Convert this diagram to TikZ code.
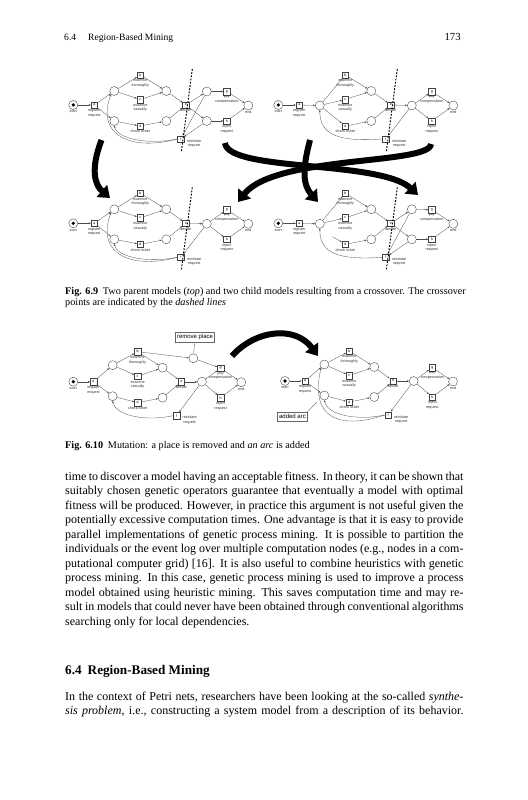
\documentclass[tikz,border=0pt]{standalone}
\usepackage{fontspec}
\setmainfont{Liberation Serif}
\newfontfamily\netfont{Liberation Sans}
\usetikzlibrary{arrows.meta}

\tikzset{
  place/.style={circle, draw=black!75, line width=0.3pt, minimum size=7.5pt, inner sep=0pt},
  startplace/.style={place, path picture={\fill[black] (path picture bounding box.center) circle (1.5pt);}},
  trans/.style={rectangle, draw=black!75, line width=0.3pt, minimum size=5.5pt, inner sep=0pt,
    font=\netfont\fontsize{3}{3}\selectfont},
  netlab/.style={font=\netfont\fontsize{3.1}{3.7}\selectfont, align=center, inner sep=0.4pt, text=black!80},
  arc/.style={draw=black!70, line width=0.25pt, -{Stealth[length=1.8pt,width=1.5pt]}},
  cutline/.style={line width=0.8pt, dash pattern=on 1.5pt off 1.2pt},
  bigarrow/.style={line width=5pt, -{Triangle[length=9pt,width=13pt]}},
  notebox/.style={draw=black!60, line width=0.4pt, inner sep=1.2pt, minimum height=8pt,
    font=\netfont\fontsize{5}{5}\selectfont},
  pointer/.style={draw=black!60, line width=0.3pt},
  bodyline/.style={anchor=base west, inner sep=0pt, font=\fontsize{10}{12}\selectfont},
  capline/.style={anchor=base west, inner sep=0pt, font=\fontsize{8.5}{10}\selectfont},
}

% nodes every model shares; #1 = prefix of the names
\newcommand\netcore[1]{%
  \node[startplace, label={[netlab]below:start}] (#1s) at (0,0) {};
  \node[trans, label={[netlab]below:{register\\request}}] (#1a) at (21,0) {a};
  \node[trans, label={[netlab]below:{examine\\thoroughly}}] (#1b) at (67,-30) {b};
  \node[trans, label={[netlab]below:{examine\\casually}}] (#1c) at (67,-5.5) {c};
  \node[trans, label={[netlab]below:{check ticket}}] (#1d) at (67,21) {d};
  \node[place] (#1q3) at (93,-14) {};
  \node[place] (#1q4) at (93,16) {};
  \node[trans, label={[netlab]below:decide}] (#1e) at (112.5,0) {e};
  \node[trans, label={[netlab]below:{pay\\compensation}}] (#1g) at (153.5,-13.5) {g};
  \node[trans, label={[netlab]below:{reject\\request}}] (#1h) at (153.5,16) {h};
  \node[place, label={[netlab]below:end}] (#1end) at (175,0.5) {};
  \node[trans] (#1f) at (107.5,34) {f};
  \node[netlab] (#1flab) at ([shift={(10,4.5)}]#1f.east) {reinitiate\\request};
  \foreach \u/\v in {s/a, b/q3, c/q3, d/q4, q3/e, q4/e, g/end, h/end}
    \draw[arc] (#1\u) -- (#1\v);
}
% crossover point
\newcommand\cutat[1]{%
  \coordinate (#1k1) at (119,-36);
  \coordinate (#1k2) at (108,47);
  \draw[cutline] (#1k1) -- (#1k2);
}

\begin{document}
\begin{tikzpicture}[x=0.8337pt, y=-0.8337pt]
  \fill[white] (0,0) rectangle (527,800);
  \useasboundingbox (0,0) rectangle (527,800);

  % running head
  \node[capline, font=\fontsize{8}{10}\selectfont] (runhead) at (64,40.5) {6.4\hspace{10pt}Region-Based Mining};
  \node[capline, anchor=base east, font=\fontsize{9}{10}\selectfont] (folio) at (461,40.5) {173};

  % parent 1
  \begin{scope}[shift={(73.3,105)}]
    \netcore{tl}
    \node[place] (tlp1) at (41,-14) {};
    \node[place] (tlp2) at (41,16) {};
    \node[place] (tlp5) at (133.5,-13.5) {};
    \node[place] (tlp6) at (133.5,16) {};
    \foreach \u/\v in {a/p1, a/p2, p1/b, p1/c, p2/d, e/p5, e/p6, p5/g, p6/h, p5/f, p6/f}
      \draw[arc] (tl\u) -- (tl\v);
    \draw[arc] (tlf.west) .. controls (60,46) and (22,32) .. (tlp1.south west);
    \draw[arc] (tlf.west) .. controls (75,40) and (44,34) .. (tlp2.south);
    \cutat{tl}
  \end{scope}

  % parent 2
  \begin{scope}[shift={(278.3,105)}]
    \netcore{tr}
    \node[place] (trp1) at (41.5,0.5) {};
    \node[place] (trp5) at (133.5,0.5) {};
    \foreach \u/\v in {a/p1, p1/b, p1/c, p1/d, e/p5, p5/g, p5/h, p5/f}
      \draw[arc] (tr\u) -- (tr\v);
    \draw[arc] (trf.west) .. controls (60,37) and (41.5,30) .. (trp1.south);
    \cutat{tr}
  \end{scope}

  % child 1
  \begin{scope}[shift={(73.3,223.3)}]
    \netcore{bl}
    \node[place] (blp1) at (41,-14) {};
    \node[place] (blp2) at (41,16) {};
    \node[place] (blp5) at (133.5,0.5) {};
    \foreach \u/\v in {a/p1, a/p2, p1/b, p1/c, p2/d, e/p5, p5/g, p5/h, p5/f}
      \draw[arc] (bl\u) -- (bl\v);
    \draw[arc] (blf.west) .. controls (60,46) and (22,32) .. (blp1.south west);
    \draw[arc] (blf.west) .. controls (75,40) and (44,34) .. (blp2.south);
    \cutat{bl}
  \end{scope}

  % child 2
  \begin{scope}[shift={(278.3,223.3)}]
    \netcore{br}
    \node[place] (brp1) at (41.5,0.5) {};
    \node[place] (brp5) at (133.5,-14) {};
    \node[place] (brp6) at (133.5,16) {};
    \coordinate (brdin) at (54.5,13.5);
    \foreach \u/\v in {a/p1, p1/b, p1/c, e/p5, e/p6, p5/g, p6/h, p5/f, p6/f}
      \draw[arc] (br\u) -- (br\v);
    \draw[arc] (brdin) -- (brd);
    \draw[arc] (brf.west) .. controls (60,37) and (41.5,30) .. (brp1.south);
    \cutat{br}
  \end{scope}

  % crossover arrows
  \coordinate (xa1) at (101.5,140);  \coordinate (xa2) at (110,198);
  \coordinate (xb1) at (225,143);    \coordinate (xb2) at (418,195);
  \coordinate (xc1) at (431,144);    \coordinate (xc2) at (238,202);
  \coordinate (xd1) at (310,140);    \coordinate (xd2) at (318,202);
  \draw[bigarrow] (xa1) .. controls (90,170) and (95,185) .. (xa2);
  \draw[bigarrow] (xb1) .. controls (228,172) and (380,160) .. (xb2);
  \draw[bigarrow] (xc1) .. controls (430,165) and (275,155) .. (xc2);
  \draw[bigarrow] (xd1) .. controls (302,170) and (303,185) .. (xd2);

  \node[capline] (cap9a) at (65,294.5) {\makebox[334pt][s]{\textbf{Fig. 6.9}\hspace{4pt}Two parent models (\textit{top}) and two child models resulting from a crossover. The crossover}};
  \node[capline] (cap9b) at (65,305) {points are indicated by the \textit{dashed lines}};

  % mutation: before
  \begin{scope}[shift={(73.3,381.7)}, xscale=0.96]
    \netcore{ml}
    \node[place] (mlp1) at (41,-16.5) {};
    \node[place] (mlp2) at (41,14.5) {};
    \node[place] (mlp5) at (134,0) {};
    \node[place] (mlrm) at (125,-23.4) {};
    \foreach \u/\v in {a/p1, a/p2, p1/b, p1/c, p2/d, e/p5, p5/g, p5/h, p5/f, b/rm, rm/g}
      \draw[arc] (ml\u) -- (ml\v);
    \draw[arc] (mlf.west) .. controls (75,40) and (44,34) .. (mlp2.south);
    \node[notebox] (rmbox) at (126.8,-44.7) {remove place};
    \draw[pointer] (rmbox) -- (mlrm);
  \end{scope}

  % mutation: after
  \begin{scope}[shift={(285,381)}, xscale=0.96]
    \netcore{mr}
    \node[place] (mrp1) at (41,-16.5) {};
    \node[place] (mrp2) at (41,14.5) {};
    \node[place] (mrp5) at (134,0) {};
    \foreach \u/\v in {a/p1, a/p2, p1/b, p1/c, p2/d, e/p5, p5/g, p5/h, p5/f}
      \draw[arc] (mr\u) -- (mr\v);
    \draw[arc] (mrf.west) .. controls (75,40) and (44,34) .. (mrp2.south);
    \draw[arc] (mrf.west) .. controls (60,48) and (25,40) .. (mrp1.south west);
    \node[notebox] (addbox) at (7.8,35.7) {added arc};
    \coordinate (mrtouch) at (33.5,20.7);
    \draw[pointer] (addbox.north east) -- (mrtouch);
  \end{scope}

  \coordinate (xe1) at (232,356);  \coordinate (xe2) at (318,356);
  \draw[bigarrow] (xe1) .. controls (255,330) and (295,325) .. (xe2);

  \node[capline] (cap10) at (65,448) {\textbf{Fig. 6.10}\hspace{4pt}Mutation: a place is removed and \textit{an arc} is added};

  % body text
  \node[bodyline] (t1) at (65,480) {\makebox[332pt][s]{time to discover a model having an acceptable fitness. In theory, it can be shown that}};
  \node[bodyline] (t2) at (65,494.5) {\makebox[332pt][s]{suitably chosen genetic operators guarantee that eventually a model with optimal}};
  \node[bodyline] (t3) at (65,509) {\makebox[332pt][s]{fitness will be produced. However, in practice this argument is not useful given the}};
  \node[bodyline] (t4) at (65,523.5) {\makebox[332pt][s]{potentially excessive computation times. One advantage is that it is easy to provide}};
  \node[bodyline] (t5) at (65,538) {\makebox[332pt][s]{parallel implementations of genetic process mining. It is possible to partition the}};
  \node[bodyline] (t6) at (65,552.5) {\makebox[332pt][s]{individuals or the event log over multiple computation nodes (e.g., nodes in a com-}};
  \node[bodyline] (t7) at (65,567) {\makebox[332pt][s]{putational computer grid) [16]. It is also useful to combine heuristics with genetic}};
  \node[bodyline] (t8) at (65,581.5) {\makebox[332pt][s]{process mining. In this case, genetic process mining is used to improve a process}};
  \node[bodyline] (t9) at (65,596) {\makebox[332pt][s]{model obtained using heuristic mining. This saves computation time and may re-}};
  \node[bodyline] (t10) at (65,610.5) {\makebox[332pt][s]{sult in models that could never have been obtained through conventional algorithms}};
  \node[bodyline] (t11) at (65,625) {searching only for local dependencies.};

  \node[bodyline, font=\fontsize{11}{13}\selectfont\bfseries] (sechead) at (65,674) {6.4\hspace{5pt}Region-Based Mining};

  \node[bodyline] (t12) at (65,700) {\makebox[332pt][s]{In the context of Petri nets, researchers have been looking at the so-called \textit{synthe-}}};
  \node[bodyline] (t13) at (65,714.5) {\makebox[332pt][s]{\textit{sis problem}, i.e., constructing a system model from a description of its behavior.}};
\end{tikzpicture}
\end{document}
